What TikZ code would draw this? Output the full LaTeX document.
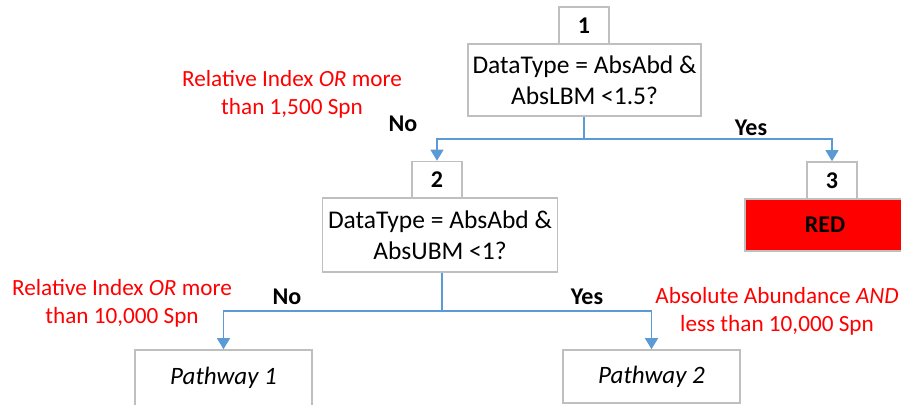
\documentclass[tikz,border=0pt]{standalone}
\usepackage{fontspec}
\setmainfont{Carlito}
\usetikzlibrary{arrows.meta}
\definecolor{boxgray}{RGB}{191,191,191}
\definecolor{linkblue}{RGB}{91,155,213}
\definecolor{notered}{RGB}{255,0,0}
\tikzset{
  box/.style={draw=boxgray, line width=1.6pt, fill=white, inner sep=0pt, align=center, font=\fontsize{25.5}{31}\selectfont},
  numbox/.style={box, minimum width=50pt, minimum height=37pt, font=\fontsize{24}{28}\selectfont\bfseries},
  link/.style={draw=linkblue, line width=1.2pt, -{Triangle[width=13pt,length=11pt]}, color=linkblue},
  answer/.style={font=\fontsize{24}{28}\selectfont\bfseries, inner sep=0pt},
  note/.style={text=notered, align=center, inner sep=0pt, font=\fontsize{23.2}{28}\selectfont}
}
\begin{document}
\begin{tikzpicture}[x=1pt, y=-1pt]
\useasboundingbox (0,0) rectangle (901,404);
% decision 1
\node[numbox] (n1) at (584,25.5) {1};
\node[box, minimum width=233pt, minimum height=72pt] (q1) at (584.5,80) {DataType = AbsAbd \&\\AbsLBM <1.5?};
% decision 2
\node[numbox] (n2) at (437,180) {2};
\node[box, minimum width=235pt, minimum height=74pt] (q2) at (440,235) {DataType = AbsAbd \&\\AbsUBM <1?};
% outcome 3
\node[numbox] (n3) at (832,180.5) {3};
\node[box, fill=notered, minimum width=160pt, minimum height=52pt, font=\fontsize{24}{28}\selectfont\bfseries] (red) at (825,225) {RED};
% pathways
\node[box, minimum width=177pt, minimum height=56pt, font=\fontsize{25}{30}\selectfont\itshape] (p1) at (223.5,378) {Pathway 1};
\node[box, minimum width=177pt, minimum height=53pt, font=\fontsize{25}{30}\selectfont\itshape] (p2) at (651.5,376.5) {Pathway 2};
% branch points
\coordinate (j1) at (584,139);
\coordinate (j2) at (442,311);
% connectors
\draw[draw=linkblue, line width=1.2pt] (q1.south -| j1) -- (j1);
\draw[link] (j1) -| (n2.north);
\draw[link] (j1) -| (n3.north);
\draw[draw=linkblue, line width=1.2pt] (q2.south -| j2) -- (j2);
\draw[link] (j2) -| (p1.north);
\draw[link] (j2) -| (p2.north);
% answers
\node[answer] (no1) at (403,124) {No};
\node[answer] (yes1) at (751,128) {Yes};
\node[answer] (no2) at (287,297) {No};
\node[answer] (yes2) at (587,297) {Yes};
% notes
\node[note] (note1) at (292,94) {Relative Index \textit{OR} more\\than 1,500 Spn};
\node[note] (note2) at (122,303) {Relative Index \textit{OR} more\\than 10,000 Spn};
\node[note] (note3) at (777,311) {Absolute Abundance \textit{AND}\\less than 10,000 Spn};
\end{tikzpicture}
\end{document}
